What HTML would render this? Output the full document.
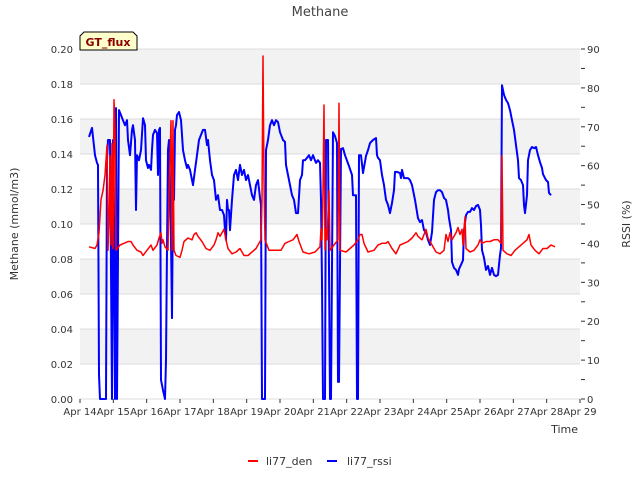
<!DOCTYPE html>
<html><head><meta charset="utf-8"><style>
body{margin:0;background:#fff;font-family:"Liberation Sans","DejaVu Sans",sans-serif}
svg text{font-family:"DejaVu Sans","Liberation Sans",sans-serif}
</style></head><body>
<svg id="chart" width="640" height="480" viewBox="0 0 640 480" xmlns="http://www.w3.org/2000/svg">
<rect width="640" height="480" fill="#fff"/>
<g id="bands"></g><g id="grid"></g>
<text x="320" y="16" text-anchor="middle" font-size="13" fill="#444">Methane</text>
<text transform="translate(18,224) rotate(-90)" text-anchor="middle" font-size="11" fill="#333">Methane (mmol/m3)</text>
<text transform="translate(630,224) rotate(-90)" text-anchor="middle" font-size="11" fill="#333">RSSI (%)</text>
<text x="578" y="433" text-anchor="end" font-size="11" fill="#333">Time</text>
<g id="ticks"></g>
<g id="series"></g>
<g>
<path d="M80,50 L80,36 L84,32 L133,32 L137,36 L137,50 Z" fill="#ffffcc" stroke="#000" stroke-width="1"/>
<text x="108" y="46" text-anchor="middle" font-size="11" font-weight="bold" fill="#8b0000">GT_flux</text>
</g>
<g>
<g><line x1="248" y1="461" x2="258" y2="461" stroke="#f00" stroke-width="2"/><text x="266" y="465" font-size="11" fill="#333">li77_den</text></g>
<g><line x1="327" y1="461" x2="337" y2="461" stroke="#00f" stroke-width="2"/><text x="347" y="465" font-size="11" fill="#333">li77_rssi</text></g>
</g>
</svg>
<script>
const xTickLabels=["Apr 14","Apr 15","Apr 16","Apr 17","Apr 18","Apr 19","Apr 20","Apr 21","Apr 22","Apr 23","Apr 24","Apr 25","Apr 26","Apr 27","Apr 28","Apr 29"];
const yTickLabels=["0.00","0.02","0.04","0.06","0.08","0.10","0.12","0.14","0.16","0.18","0.20"];
const y2TickLabels=["0","10","20","30","40","50","60","70","80","90"];
const rssiDays=[0.27,0.36,0.45,0.51,0.54,0.57,0.60,0.78,0.81,0.84,0.90,0.96,0.99,1.05,1.08,1.11,1.17,1.23,1.29,1.35,1.41,1.44,1.50,1.56,1.59,1.65,1.68,1.71,1.77,1.83,1.89,1.95,1.98,2.04,2.07,2.13,2.16,2.19,2.25,2.31,2.34,2.37,2.40,2.43,2.49,2.55,2.58,2.61,2.64,2.67,2.73,2.76,2.79,2.82,2.85,2.88,2.91,2.97,3.03,3.06,3.09,3.15,3.21,3.24,3.30,3.36,3.39,3.45,3.51,3.57,3.63,3.69,3.75,3.81,3.84,3.90,3.96,4.02,4.08,4.14,4.20,4.26,4.32,4.35,4.38,4.41,4.44,4.47,4.50,4.56,4.62,4.68,4.74,4.80,4.86,4.92,4.98,5.04,5.10,5.16,5.22,5.28,5.34,5.40,5.43,5.46,5.55,5.58,5.64,5.70,5.76,5.82,5.88,5.94,6.00,6.09,6.15,6.18,6.24,6.30,6.36,6.42,6.48,6.54,6.60,6.66,6.69,6.75,6.81,6.87,6.93,6.99,7.08,7.14,7.20,7.23,7.26,7.29,7.35,7.38,7.44,7.50,7.53,7.59,7.65,7.71,7.74,7.77,7.83,7.89,7.95,8.07,8.16,8.19,8.28,8.31,8.34,8.37,8.43,8.49,8.58,8.64,8.70,8.79,8.88,8.91,8.94,9.00,9.06,9.12,9.18,9.24,9.30,9.36,9.42,9.45,9.51,9.60,9.63,9.66,9.72,9.84,9.90,9.96,10.05,10.14,10.20,10.26,10.32,10.38,10.44,10.50,10.56,10.62,10.68,10.74,10.80,10.86,10.92,10.98,11.04,11.07,11.13,11.16,11.22,11.28,11.34,11.37,11.43,11.49,11.52,11.58,11.64,11.70,11.76,11.82,11.88,11.94,12.00,12.03,12.06,12.12,12.18,12.24,12.30,12.36,12.42,12.48,12.54,12.57,12.60,12.63,12.66,12.72,12.78,12.84,12.90,12.96,13.02,13.08,13.14,13.17,13.23,13.29,13.32,13.35,13.41,13.44,13.50,13.56,13.62,13.68,13.74,13.80,13.86,13.89,13.98,14.04,14.07,14.13];
const rssiValues=[67.4,69.7,62.7,60.7,60.2,6.2,0,0,61.4,66.6,66.6,0,66.6,0,74.8,0,74.3,73.0,71.7,70.4,71.7,66.6,62.7,69.2,70.4,66.6,48.6,62.7,61.4,64.0,72.2,70.4,61.4,59.4,60.2,58.9,64.0,67.9,69.2,68.4,57.6,69.2,69.7,4.9,2.3,0,10.0,38.8,64.0,66.6,40.9,20.8,53.7,51.2,69.2,70.4,73.0,73.8,71.7,67.9,64.0,61.4,59.4,60.2,58.9,56.3,55.0,58.9,62.7,66.6,67.9,69.2,69.2,65.3,66.6,61.4,57.6,56.3,51.2,52.4,48.6,48.6,47.3,43.4,40.9,51.2,48.6,48.6,43.4,51.2,57.6,58.9,56.3,60.2,57.6,58.9,56.3,57.6,55.0,52.4,51.2,55.0,56.3,51.7,49.9,0,0,64.0,66.6,70.4,71.7,70.4,71.7,71.2,68.6,66.6,66.1,60.2,57.6,55.0,52.4,51.2,47.8,47.8,56.3,57.6,61.4,61.4,62.0,62.7,61.4,62.7,60.7,61.4,60.7,51.2,29.8,0,0,66.6,66.6,0,0,68.6,67.6,65.8,4.4,4.4,64.3,64.5,62.7,59.9,57.6,52.4,52.4,0,0,62.7,62.7,58.1,62.5,64.0,65.8,66.6,67.1,62.7,62.0,61.4,57.6,55.0,51.2,49.9,47.8,50.4,53.7,58.4,58.4,58.1,56.8,58.9,56.8,56.8,56.3,55.0,51.2,46.5,45.5,46.0,43.4,42.9,40.9,39.6,42.9,51.2,53.2,53.7,53.7,53.2,51.7,51.2,48.6,46.5,43.4,35.2,33.7,33.2,31.9,33.4,34.5,35.7,43.4,47.3,48.1,48.1,49.1,48.6,49.6,49.9,48.6,44.7,38.3,36.3,33.2,34.2,31.9,33.7,31.9,31.6,31.9,34.5,37.0,38.8,80.7,78.2,76.9,76.1,74.3,71.7,69.2,65.3,61.4,56.8,56.3,55.0,49.9,47.8,52.4,61.4,64.0,64.8,64.5,64.8,62.7,60.9,59.4,57.8,56.3,55.8,53.0,52.4];
const denDays=[0.27,0.45,0.51,0.57,0.63,0.69,0.75,0.81,0.84,0.87,0.90,0.93,0.96,0.99,1.02,1.05,1.08,1.20,1.32,1.44,1.53,1.59,1.71,1.83,1.89,2.01,2.13,2.19,2.31,2.37,2.43,2.46,2.49,2.55,2.64,2.67,2.70,2.73,2.76,2.79,2.82,2.88,3.00,3.06,3.12,3.24,3.36,3.42,3.48,3.54,3.66,3.78,3.90,4.02,4.08,4.14,4.20,4.26,4.32,4.38,4.44,4.56,4.68,4.80,4.92,5.04,5.16,5.28,5.40,5.43,5.46,5.49,5.52,5.55,5.67,5.85,6.03,6.15,6.27,6.39,6.51,6.57,6.69,6.87,7.05,7.20,7.23,7.26,7.29,7.32,7.35,7.38,7.41,7.47,7.50,7.62,7.74,7.77,7.80,7.98,8.10,8.22,8.34,8.40,8.46,8.52,8.64,8.82,8.94,9.06,9.18,9.24,9.36,9.48,9.60,9.72,9.84,9.96,10.08,10.14,10.26,10.38,10.44,10.56,10.68,10.80,10.92,10.98,11.04,11.10,11.16,11.28,11.34,11.40,11.46,11.49,11.55,11.58,11.70,11.82,11.94,12.00,12.06,12.18,12.30,12.42,12.54,12.63,12.66,12.69,12.81,12.93,13.05,13.17,13.29,13.41,13.47,13.53,13.65,13.77,13.89,14.01,14.13,14.25];
const denValues=[.087,.086,.088,.095,.114,.119,.128,.145,.085,.105,.139,.088,.146,.086,.171,.154,.085,.088,.089,.090,.090,.088,.085,.084,.082,.085,.088,.085,.088,.092,.095,.089,.091,.087,.085,.119,.137,.159,.085,.159,.085,.082,.081,.085,.090,.092,.091,.094,.095,.093,.090,.086,.085,.088,.091,.095,.093,.095,.097,.091,.086,.083,.084,.086,.082,.082,.084,.086,.090,.091,.114,.196,.125,.091,.085,.085,.085,.089,.090,.091,.094,.090,.084,.083,.084,.087,.097,.091,.119,.168,.085,.097,.091,.119,.085,.088,.091,.169,.085,.084,.086,.088,.091,.094,.094,.089,.084,.085,.088,.089,.089,.090,.086,.083,.088,.089,.090,.092,.095,.093,.091,.097,.092,.088,.084,.083,.085,.094,.090,.095,.091,.095,.098,.094,.097,.088,.104,.086,.084,.085,.088,.091,.089,.090,.090,.091,.091,.089,.139,.085,.083,.082,.085,.087,.089,.091,.094,.088,.085,.083,.086,.086,.088,.087];
const X0=80,X1=580,Y0=399,Y1=49,NS="http://www.w3.org/2000/svg";
const xs=d=>X0+d/15*(X1-X0);
const yl=v=>Y0-v/0.2*(Y0-Y1);
const yr=v=>Y0-v/90*(Y0-Y1);
function mk(tag,attrs,parent){const e=document.createElementNS(NS,tag);for(const k in attrs)e.setAttribute(k,attrs[k]);parent.appendChild(e);return e;}
const bands=document.getElementById('bands'),grid=document.getElementById('grid'),ticks=document.getElementById('ticks'),series=document.getElementById('series');
mk('rect',{x:X0,y:Y1,width:X1-X0,height:Y0-Y1,fill:'#fff'},bands);
for(let i=1;i<10;i+=2){const b=mk('rect',{x:X0,y:yl((i+1)*0.02),width:X1-X0,height:yl(i*0.02)-yl((i+1)*0.02),fill:'#f2f2f2'},bands);

}
yTickLabels.forEach((t,i)=>{const y=yl(i*0.02);
const g=mk('line',{x1:X0,x2:X1,y1:y,y2:y,stroke:'#dcdcdc','stroke-width':1},grid);


const tx=mk('text',{x:X0-7,y:y+4,'text-anchor':'end','font-size':10,fill:'#333'},ticks);tx.textContent=t;

});
for(let v=0;v<=90;v+=5){const y=yr(v);mk('line',{x1:X1+1,x2:X1+5,y1:y,y2:y,stroke:'#333','stroke-width':1},ticks);}
y2TickLabels.forEach(t=>{const y=yr(+t);const tx=mk('text',{x:X1+7,y:y+4,'font-size':10,fill:'#333'},ticks);tx.textContent=t;

});
xTickLabels.forEach((t,i)=>{const x=xs(i);mk('line',{x1:x,x2:x,y1:Y0,y2:Y0+4,stroke:'#333'},ticks);
const tx=mk('text',{x:x,y:Y0+16,'text-anchor':'middle','font-size':10,fill:'#333'},ticks);tx.textContent=t;

});
const rp=mk('polyline',{points:rssiDays.map((d,i)=>xs(d).toFixed(1)+','+yr(rssiValues[i]).toFixed(1)).join(' '),fill:'none',stroke:'#00f','stroke-width':2,'stroke-linejoin':'round'},series);


const dp=mk('polyline',{points:denDays.map((d,i)=>xs(d).toFixed(1)+','+yl(denValues[i]).toFixed(1)).join(' '),fill:'none',stroke:'#f00','stroke-width':1.5,'stroke-linejoin':'round'},series);


</script>
</body></html>
